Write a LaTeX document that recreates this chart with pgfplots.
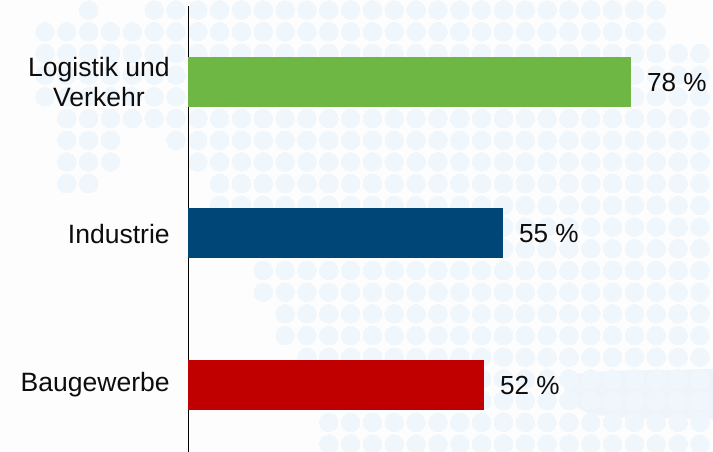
\documentclass[border=0pt]{standalone}
\usepackage{pgfplots}
\pgfplotsset{compat=1.18}
\usepackage{fontspec}
\setmainfont{Liberation Sans}
\definecolor{dotc}{HTML}{F0F7FC}
\definecolor{blobc}{HTML}{DFEAF7}
\definecolor{bgreen}{HTML}{6FB744}
\definecolor{bblue}{HTML}{004676}
\definecolor{bred}{HTML}{C00000}
\definecolor{pagebg}{HTML}{FDFDFD}
\begin{document}
\begin{tikzpicture}[x=1pt,y=1pt]
\path[use as bounding box,fill=pagebg] (0,0) rectangle (534.75,339);
\begin{axis}[at={(0,0)},anchor=south west,scale only axis,width=534.75pt,height=339pt,
  hide axis,xmin=-2.061,xmax=30.6,ymin=-0.461,ymax=20.369,y dir=reverse]
\addplot[only marks,color=dotc,mark=*,mark size=7.0pt,mark options={fill=dotc,draw=dotc,line width=0pt}] coordinates {
(2,0)(5,0)(6,0)(7,0)(8,0)(9,0)(10,0)(11,0)(12,0)(13,0)(14,0)(15,0)(16,0)(17,0)(18,0)(19,0)(20,0)(21,0)(22,0)(23,0)(24,0)(25,0)(26,0)(27,0)(28,0)
(0,1)(1,1)(2,1)(3,1)(4,1)(5,1)(6,1)(7,1)(8,1)(9,1)(10,1)(11,1)(12,1)(13,1)(14,1)(15,1)(16,1)(17,1)(18,1)(19,1)(20,1)(21,1)(22,1)(23,1)(24,1)(25,1)(26,1)(27,1)(28,1)
(0,2)(1,2)(2,2)(3,2)(4,2)(5,2)(6,2)(7,2)(8,2)(9,2)(10,2)(11,2)(12,2)(13,2)(14,2)(15,2)(16,2)(17,2)(18,2)(19,2)(20,2)(21,2)(22,2)(23,2)(24,2)(25,2)(26,2)(27,2)(28,2)(29,2)(30,2)
(0,3)(1,3)(2,3)(3,3)(4,3)(5,3)(6,3)(7,3)(8,3)(9,3)(10,3)(11,3)(12,3)(13,3)(14,3)(15,3)(16,3)(17,3)(18,3)(19,3)(20,3)(21,3)(22,3)(23,3)(24,3)(25,3)(26,3)(27,3)(28,3)(29,3)(30,3)
(0,4)(1,4)(2,4)(3,4)(4,4)(5,4)(6,4)(7,4)(8,4)(9,4)(10,4)(11,4)(12,4)(13,4)(14,4)(15,4)(16,4)(17,4)(18,4)(19,4)(20,4)(21,4)(22,4)(23,4)(24,4)(25,4)(26,4)(27,4)(28,4)(29,4)(30,4)
(1,5)(2,5)(3,5)(4,5)(5,5)(6,5)(7,5)(8,5)(9,5)(10,5)(11,5)(12,5)(13,5)(14,5)(15,5)(16,5)(17,5)(18,5)(19,5)(20,5)(21,5)(22,5)(23,5)(24,5)(25,5)(26,5)(27,5)(28,5)(29,5)(30,5)
(1,6)(2,6)(3,6)(6,6)(7,6)(8,6)(9,6)(10,6)(11,6)(12,6)(13,6)(14,6)(15,6)(16,6)(17,6)(18,6)(19,6)(20,6)(21,6)(22,6)(23,6)(24,6)(25,6)(26,6)(27,6)(28,6)(29,6)(30,6)
(1,7)(2,7)(3,7)(7,7)(8,7)(9,7)(10,7)(11,7)(12,7)(13,7)(14,7)(15,7)(16,7)(17,7)(18,7)(19,7)(20,7)(21,7)(22,7)(23,7)(24,7)(25,7)(26,7)(27,7)(28,7)(29,7)(30,7)
(1,8)(2,8)(8,8)(9,8)(10,8)(11,8)(12,8)(13,8)(14,8)(15,8)(16,8)(17,8)(18,8)(19,8)(20,8)(21,8)(22,8)(23,8)(24,8)(25,8)(26,8)(27,8)(28,8)(29,8)(30,8)
(8,9)(9,9)(10,9)(11,9)(12,9)(13,9)(14,9)(15,9)(16,9)(17,9)(18,9)(19,9)(20,9)(21,9)(22,9)(23,9)(24,9)(25,9)(26,9)(27,9)(28,9)(29,9)(30,9)
(9,10)(10,10)(11,10)(12,10)(13,10)(14,10)(15,10)(16,10)(17,10)(18,10)(19,10)(20,10)(21,10)(22,10)(23,10)(24,10)(25,10)(26,10)(27,10)(28,10)(29,10)(30,10)
(9,11)(10,11)(11,11)(12,11)(13,11)(14,11)(15,11)(16,11)(17,11)(18,11)(19,11)(20,11)(21,11)(22,11)(23,11)(24,11)(25,11)(26,11)(27,11)(28,11)(29,11)(30,11)
(10,12)(11,12)(12,12)(13,12)(14,12)(15,12)(16,12)(17,12)(18,12)(19,12)(20,12)(21,12)(22,12)(23,12)(24,12)(25,12)(26,12)(27,12)(28,12)(29,12)(30,12)
(10,13)(11,13)(12,13)(13,13)(14,13)(15,13)(16,13)(17,13)(18,13)(19,13)(20,13)(21,13)(22,13)(23,13)(24,13)(25,13)(26,13)(27,13)(28,13)(29,13)(30,13)
(11,14)(12,14)(13,14)(14,14)(15,14)(16,14)(17,14)(18,14)(19,14)(20,14)(21,14)(22,14)(23,14)(24,14)(25,14)(26,14)(27,14)(28,14)(29,14)(30,14)
(11,15)(12,15)(13,15)(14,15)(15,15)(16,15)(17,15)(18,15)(19,15)(20,15)(21,15)(22,15)(23,15)(24,15)(25,15)(26,15)(27,15)(28,15)(29,15)(30,15)
(12,16)(13,16)(14,16)(15,16)(16,16)(17,16)(18,16)(19,16)(20,16)(21,16)(22,16)(23,16)(24,16)(25,16)(26,16)(27,16)(28,16)(29,16)(30,16)
(12,17)(13,17)(14,17)(15,17)(16,17)(17,17)(18,17)(19,17)(20,17)(21,17)(22,17)(23,17)(24,17)(25,17)(26,17)(27,17)(28,17)(29,17)(30,17)
(13,18)(14,18)(15,18)(16,18)(17,18)(18,18)(19,18)(20,18)(21,18)(22,18)(23,18)(24,18)(25,18)(26,18)(27,18)(28,18)(29,18)(30,18)
(13,19)(14,19)(15,19)(16,19)(17,19)(18,19)(19,19)(20,19)(21,19)(22,19)(23,19)(24,19)(25,19)(26,19)(27,19)(28,19)(29,19)(30,19)
(13,20)(14,20)(15,20)(16,20)(17,20)(18,20)(19,20)(20,20)(21,20)(22,20)(23,20)(24,20)(25,20)(26,20)(27,20)(28,20)(29,20)(30,20)
};
\addplot[smooth,draw=none,fill=blobc,fill opacity=0.45] coordinates {
(24.2,16.8)(25,16.7)(27,16.6)(29,16.6)(31,16.7)(31,18.7)(29,18.8)(27,18.8)(25,18.6)(24.0,18.0)(23.8,17.4)(24.2,16.8)};
\end{axis}
\begin{axis}[at={(141.3pt,0)},anchor=south west,scale only axis,width=393.45pt,height=334.5pt,
  xmin=0,xmax=92.5,ymin=-0.442,ymax=2.502,
  axis x line=none,axis y line=left,axis line style={-,black,line width=0.75pt},
  xbar,bar width=37.5pt,bar shift=0pt,
  ytick={0,1,2},yticklabels={Baugewerbe,Industrie,{Logistik und\\Verkehr}},
  major tick length=0pt,
  y tick label style={align=center,anchor=east,inner sep=0pt,xshift=-13.8pt,font=\fontsize{19.9}{22.2}\selectfont,text=black!95},
  point meta=explicit symbolic,
  nodes near coords,
  nodes near coords style={anchor=west,inner sep=0pt,xshift=12pt,font=\fontsize{19.6}{22.6}\selectfont,text=black!95},
  clip=false]
\addplot[draw=none,fill=bred] coordinates {(52.1,0)[52~\%]};
\addplot[draw=none,fill=bblue] coordinates {(55.45,1.003)[55~\%]};
\addplot[draw=none,fill=bgreen] coordinates {(78,2)[78~\%]};
\end{axis}
\end{tikzpicture}
\end{document}
